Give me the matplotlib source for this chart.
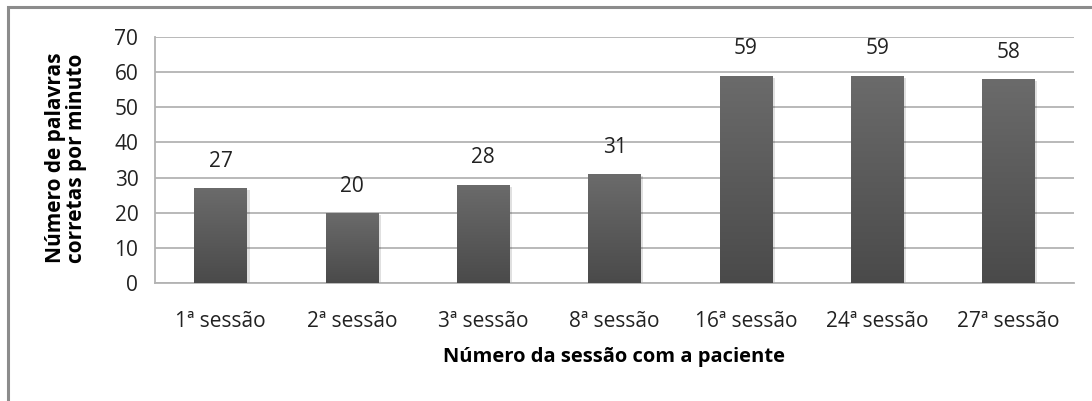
import numpy as np
import matplotlib.pyplot as plt
from matplotlib.patches import Rectangle
from matplotlib.colors import LinearSegmentedColormap

sessoes = ["1ª sessão", "2ª sessão", "3ª sessão", "8ª sessão",
           "16ª sessão", "24ª sessão", "27ª sessão"]
palavras = [27, 20, 28, 31, 59, 59, 58]

plt.rcParams['font.family'] = ['Open Sans', 'DejaVu Sans']

W, H = 1092, 401
fig = plt.figure(figsize=(W / 100, H / 100), dpi=100)
ax = fig.add_axes([155 / W, 1 - 283 / H, (1074 - 155) / W, (283 - 37) / H])

# outer frame (Excel chart area), open on right / bottom
fig.patches.append(Rectangle((8 / W, -0.05), 1.2, 1 - 7 / H + 0.05,
                             transform=fig.transFigure, fill=False,
                             edgecolor='#8c8c8c', linewidth=2.2))

x = np.arange(len(sessoes))
bars = ax.bar(x, palavras, width=0.4, color='#5e5e5e', zorder=3)

cmap = LinearSegmentedColormap.from_list('g', ['#4a4a4a', '#6b6b6b'])
grad = np.linspace(0, 1, 256).reshape(-1, 1)
for b in bars:
    x0, y0 = b.get_x(), b.get_y()
    w, h = b.get_width(), b.get_height()
    # soft shadow
    ax.add_patch(Rectangle((x0 + 0.02, y0 - 0.6), w, h, color='#000000',
                           alpha=0.12, zorder=2, linewidth=0))
    im = ax.imshow(grad, extent=[x0, x0 + w, y0, y0 + h], aspect='auto',
                   cmap=cmap, origin='lower', zorder=4)
    im.set_clip_path(b)
    ax.text(x0 + w / 2, h + 4.6, str(int(h)), ha='center', va='bottom',
            fontsize=15, color='#222222')

ax.set_xlim(-0.5, len(sessoes) - 0.5)
ax.set_ylim(0, 70)
ax.set_yticks(range(0, 71, 10))
ax.set_xticks(x)
ax.set_xticklabels(sessoes)
ax.tick_params(axis='both', length=0, labelsize=15, colors='#222222')
ax.tick_params(axis='x', pad=20)
ax.tick_params(axis='y', pad=12)

ax.grid(axis='y', color='#b3b3b3', linewidth=1.3, zorder=0)
for s in ['top', 'right']:
    ax.spines[s].set_visible(False)
ax.spines['left'].set_color('#b3b3b3')
ax.spines['bottom'].set_color('#b3b3b3')
ax.spines['left'].set_linewidth(1.3)
ax.spines['bottom'].set_linewidth(1.3)

fig.text(66 / W, 1 - 158 / H, "Número de palavras\ncorretas por minuto",
         rotation=90, ha='center', va='center', fontsize=15,
         fontweight='bold', linespacing=1.05)
fig.text(614 / W, 1 - 357 / H, "Número da sessão com a paciente",
         ha='center', va='center', fontsize=14.5, fontweight='bold')

fig.savefig("out.png", dpi=100)
